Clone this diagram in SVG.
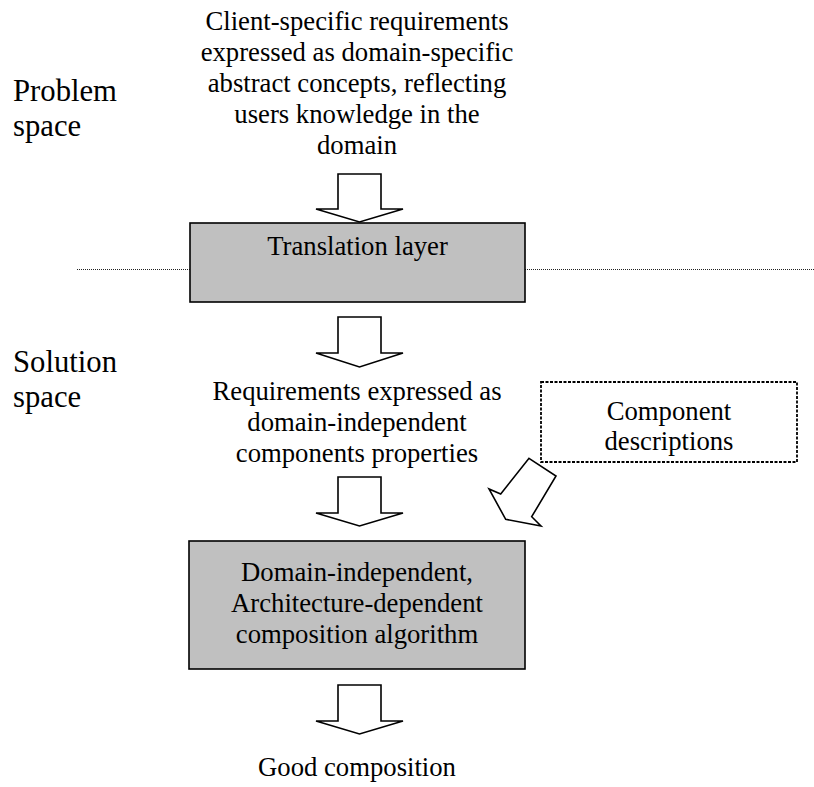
<svg xmlns="http://www.w3.org/2000/svg" width="814" height="787" viewBox="0 0 814 787" font-family="'Liberation Serif', Tinos, 'Times New Roman', 'DejaVu Serif', serif">
<style>
text{font-family:'Liberation Serif', Tinos, 'Times New Roman', 'DejaVu Serif', serif;fill:#000}
.t{font-size:26.7px;text-anchor:middle}
.lbl{font-size:30.7px}
.box{fill:#c0c0c0;stroke:#000;stroke-width:1.6}
.arr{fill:#fff;stroke:#000;stroke-width:1.6;stroke-linejoin:miter}
.sep{stroke:#222;stroke-width:1.2;stroke-dasharray:1,1;fill:none}
.dbox{fill:none;stroke:#000;stroke-width:1.8;stroke-dasharray:3,1.5}
</style>
<rect width="814" height="787" fill="#fff"/>
<g id="labels">
<text class="lbl" x="13" y="101">Problem</text>
<text class="lbl" x="13" y="136">space</text>
<text class="lbl" x="13" y="372">Solution</text>
<text class="lbl" x="13" y="407">space</text>
</g>
<g id="separator">
<line class="sep" x1="77" y1="269.5" x2="190" y2="269.5"/>
<line class="sep" x1="525" y1="269.5" x2="814" y2="269.5"/>
</g>
<g id="client-requirements">
<text class="t" x="357" y="30">Client-specific requirements</text>
<text class="t" x="357" y="61">expressed as domain-specific</text>
<text class="t" x="357" y="92">abstract concepts, reflecting</text>
<text class="t" x="357" y="123">users knowledge in the</text>
<text class="t" x="357" y="154">domain</text>
</g>
<g id="translation-layer">
<rect class="box" x="190" y="223" width="335" height="79"/>
<text class="t" x="357.5" y="255">Translation layer</text>
</g>
<g id="requirements-independent">
<text class="t" x="357" y="400">Requirements expressed as</text>
<text class="t" x="357" y="431">domain-independent</text>
<text class="t" x="357" y="462">components properties</text>
</g>
<g id="component-descriptions">
<rect class="dbox" x="541" y="382" width="256" height="80"/>
<text class="t" x="669" y="420">Component</text>
<text class="t" x="669" y="450">descriptions</text>
</g>
<g id="composition-algorithm">
<rect class="box" x="189" y="541" width="336" height="128"/>
<text class="t" x="357" y="581">Domain-independent,</text>
<text class="t" x="357" y="612">Architecture-dependent</text>
<text class="t" x="357" y="643">composition algorithm</text>
</g>
<g id="good-composition">
<text class="t" x="357" y="776">Good composition</text>
</g>
<g id="connectors">
<polygon class="arr" points="338,174 381,174 381,209 403,209 359.5,222 316,209 338,209"/>
<polygon class="arr" points="338,317 381,317 381,353 403,353 359.5,367 316,353 338,353"/>
<polygon class="arr" points="338,477 381,477 381,513 403,513 359.5,526 316,513 338,513"/>
<polygon class="arr" points="338,685 381,685 381,721 403,721 359.5,734 316,721 338,721"/>
<polygon class="arr" points="529,458.3 556,476 531.7,516.7 541,526 505.7,519.3 489,489 500.7,494"/>
</g>
</svg>
